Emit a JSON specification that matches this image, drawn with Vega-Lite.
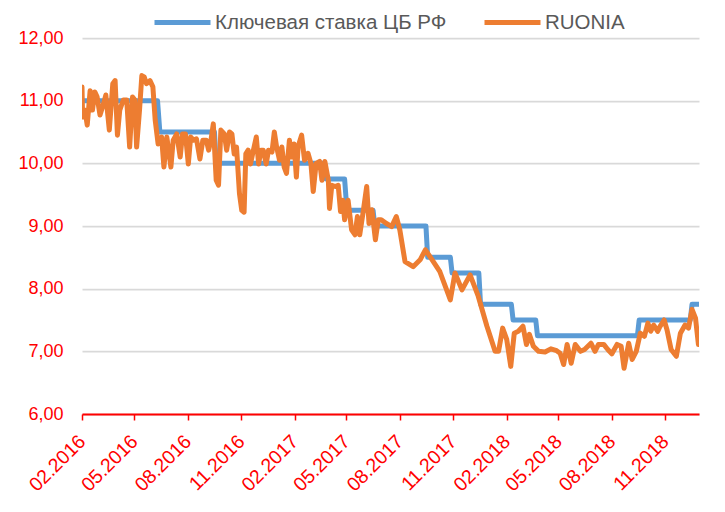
{
  "$schema": "https://vega.github.io/schema/vega-lite/v6.json",
  "width": 617,
  "height": 376,
  "autosize": {"type": "none"},
  "padding": {"left": 82, "top": 38, "right": 26, "bottom": 98},
  "background": "white",
  "config": {"view": {"stroke": null}, "font": "Liberation Sans"},
  "datasets": {
    "key": [
      {"date": "2016-02-01", "value": 11.0},
      {"date": "2016-06-10", "value": 11.0},
      {"date": "2016-06-14", "value": 10.5},
      {"date": "2016-09-16", "value": 10.5},
      {"date": "2016-09-19", "value": 10.0},
      {"date": "2017-03-24", "value": 10.0},
      {"date": "2017-03-27", "value": 9.75},
      {"date": "2017-04-28", "value": 9.75},
      {"date": "2017-05-02", "value": 9.25},
      {"date": "2017-06-16", "value": 9.25},
      {"date": "2017-06-19", "value": 9.0},
      {"date": "2017-09-15", "value": 9.0},
      {"date": "2017-09-18", "value": 8.5},
      {"date": "2017-10-27", "value": 8.5},
      {"date": "2017-10-30", "value": 8.25},
      {"date": "2017-12-15", "value": 8.25},
      {"date": "2017-12-18", "value": 7.75},
      {"date": "2018-02-09", "value": 7.75},
      {"date": "2018-02-12", "value": 7.5},
      {"date": "2018-03-23", "value": 7.5},
      {"date": "2018-03-26", "value": 7.25},
      {"date": "2018-09-14", "value": 7.25},
      {"date": "2018-09-17", "value": 7.5},
      {"date": "2018-12-14", "value": 7.5},
      {"date": "2018-12-17", "value": 7.75},
      {"date": "2018-12-29", "value": 7.75}
    ],
    "ruonia": [
      {"date": "2016-02-01", "value": 11.22},
      {"date": "2016-02-02", "value": 10.74},
      {"date": "2016-02-06", "value": 10.85},
      {"date": "2016-02-10", "value": 10.61},
      {"date": "2016-02-15", "value": 11.16},
      {"date": "2016-02-19", "value": 10.85},
      {"date": "2016-02-23", "value": 11.14},
      {"date": "2016-02-27", "value": 11.06},
      {"date": "2016-03-03", "value": 10.77},
      {"date": "2016-03-09", "value": 10.95},
      {"date": "2016-03-13", "value": 11.09},
      {"date": "2016-03-19", "value": 10.53},
      {"date": "2016-03-25", "value": 11.27},
      {"date": "2016-03-29", "value": 11.32},
      {"date": "2016-04-02", "value": 10.45},
      {"date": "2016-04-06", "value": 10.85},
      {"date": "2016-04-12", "value": 11.01},
      {"date": "2016-04-18", "value": 11.01},
      {"date": "2016-04-23", "value": 10.26},
      {"date": "2016-04-28", "value": 11.06},
      {"date": "2016-05-02", "value": 11.01},
      {"date": "2016-05-05", "value": 10.26},
      {"date": "2016-05-10", "value": 10.85},
      {"date": "2016-05-14", "value": 11.40},
      {"date": "2016-05-18", "value": 11.38},
      {"date": "2016-05-22", "value": 11.27},
      {"date": "2016-05-28", "value": 11.32},
      {"date": "2016-06-02", "value": 11.22},
      {"date": "2016-06-06", "value": 10.69},
      {"date": "2016-06-11", "value": 10.31},
      {"date": "2016-06-17", "value": 10.42},
      {"date": "2016-06-21", "value": 9.94},
      {"date": "2016-06-26", "value": 10.42},
      {"date": "2016-07-03", "value": 9.94},
      {"date": "2016-07-07", "value": 10.37},
      {"date": "2016-07-13", "value": 10.47},
      {"date": "2016-07-19", "value": 10.10},
      {"date": "2016-07-23", "value": 10.47},
      {"date": "2016-07-28", "value": 10.47},
      {"date": "2016-08-02", "value": 9.99},
      {"date": "2016-08-06", "value": 10.42},
      {"date": "2016-08-11", "value": 10.37},
      {"date": "2016-08-16", "value": 10.39},
      {"date": "2016-08-22", "value": 10.07},
      {"date": "2016-08-27", "value": 10.37},
      {"date": "2016-09-02", "value": 10.37},
      {"date": "2016-09-06", "value": 10.21},
      {"date": "2016-09-10", "value": 10.37},
      {"date": "2016-09-14", "value": 10.63},
      {"date": "2016-09-19", "value": 9.73},
      {"date": "2016-09-23", "value": 9.65},
      {"date": "2016-09-27", "value": 10.53},
      {"date": "2016-10-03", "value": 10.47},
      {"date": "2016-10-07", "value": 10.21},
      {"date": "2016-10-12", "value": 10.50},
      {"date": "2016-10-16", "value": 10.47},
      {"date": "2016-10-20", "value": 10.15},
      {"date": "2016-10-24", "value": 10.26},
      {"date": "2016-10-29", "value": 9.52},
      {"date": "2016-11-02", "value": 9.25},
      {"date": "2016-11-06", "value": 9.22},
      {"date": "2016-11-09", "value": 10.15},
      {"date": "2016-11-13", "value": 10.21},
      {"date": "2016-11-17", "value": 9.99},
      {"date": "2016-11-22", "value": 10.21},
      {"date": "2016-11-27", "value": 10.42},
      {"date": "2016-12-01", "value": 9.99},
      {"date": "2016-12-05", "value": 10.21},
      {"date": "2016-12-09", "value": 10.21},
      {"date": "2016-12-14", "value": 9.99},
      {"date": "2016-12-18", "value": 10.21},
      {"date": "2016-12-24", "value": 10.18},
      {"date": "2016-12-28", "value": 10.50},
      {"date": "2017-01-01", "value": 10.26},
      {"date": "2017-01-06", "value": 10.05},
      {"date": "2017-01-10", "value": 10.26},
      {"date": "2017-01-14", "value": 9.94},
      {"date": "2017-01-18", "value": 9.84},
      {"date": "2017-01-23", "value": 10.37},
      {"date": "2017-01-27", "value": 10.10},
      {"date": "2017-01-31", "value": 10.31},
      {"date": "2017-02-04", "value": 9.78},
      {"date": "2017-02-07", "value": 10.27},
      {"date": "2017-02-13", "value": 10.45},
      {"date": "2017-02-18", "value": 10.05},
      {"date": "2017-02-24", "value": 10.16},
      {"date": "2017-03-01", "value": 10.00},
      {"date": "2017-03-05", "value": 9.55},
      {"date": "2017-03-10", "value": 10.00},
      {"date": "2017-03-16", "value": 10.03},
      {"date": "2017-03-20", "value": 9.73},
      {"date": "2017-03-25", "value": 10.03},
      {"date": "2017-03-31", "value": 9.73},
      {"date": "2017-04-02", "value": 9.28},
      {"date": "2017-04-06", "value": 9.65},
      {"date": "2017-04-12", "value": 9.63},
      {"date": "2017-04-17", "value": 9.65},
      {"date": "2017-04-21", "value": 9.23},
      {"date": "2017-04-25", "value": 9.41},
      {"date": "2017-04-28", "value": 9.10},
      {"date": "2017-05-04", "value": 9.41},
      {"date": "2017-05-10", "value": 8.94},
      {"date": "2017-05-16", "value": 8.86},
      {"date": "2017-05-20", "value": 9.15},
      {"date": "2017-05-24", "value": 8.86},
      {"date": "2017-05-30", "value": 9.23},
      {"date": "2017-06-05", "value": 9.63},
      {"date": "2017-06-09", "value": 9.04},
      {"date": "2017-06-14", "value": 9.26},
      {"date": "2017-06-20", "value": 8.78},
      {"date": "2017-06-25", "value": 9.10},
      {"date": "2017-06-30", "value": 9.10},
      {"date": "2017-07-09", "value": 9.04},
      {"date": "2017-07-18", "value": 8.99},
      {"date": "2017-07-26", "value": 9.15},
      {"date": "2017-08-01", "value": 8.94},
      {"date": "2017-08-10", "value": 8.43},
      {"date": "2017-08-24", "value": 8.35},
      {"date": "2017-09-05", "value": 8.46},
      {"date": "2017-09-14", "value": 8.62},
      {"date": "2017-09-22", "value": 8.51},
      {"date": "2017-10-09", "value": 8.27},
      {"date": "2017-10-27", "value": 7.82},
      {"date": "2017-11-04", "value": 8.25},
      {"date": "2017-11-16", "value": 7.98},
      {"date": "2017-11-30", "value": 8.22},
      {"date": "2017-12-14", "value": 7.88},
      {"date": "2017-12-29", "value": 7.40},
      {"date": "2018-01-12", "value": 7.00},
      {"date": "2018-01-18", "value": 7.00},
      {"date": "2018-01-25", "value": 7.37},
      {"date": "2018-02-01", "value": 7.19},
      {"date": "2018-02-08", "value": 6.76},
      {"date": "2018-02-14", "value": 7.29},
      {"date": "2018-02-21", "value": 7.32},
      {"date": "2018-03-01", "value": 7.40},
      {"date": "2018-03-07", "value": 7.11},
      {"date": "2018-03-12", "value": 7.27},
      {"date": "2018-03-19", "value": 7.08},
      {"date": "2018-03-28", "value": 7.00},
      {"date": "2018-04-08", "value": 6.99},
      {"date": "2018-04-18", "value": 7.04},
      {"date": "2018-04-28", "value": 7.01},
      {"date": "2018-05-04", "value": 6.97},
      {"date": "2018-05-10", "value": 6.79},
      {"date": "2018-05-16", "value": 7.11},
      {"date": "2018-05-23", "value": 6.81},
      {"date": "2018-05-30", "value": 7.11},
      {"date": "2018-06-08", "value": 7.00},
      {"date": "2018-06-15", "value": 7.03},
      {"date": "2018-06-26", "value": 7.13},
      {"date": "2018-07-03", "value": 7.00},
      {"date": "2018-07-09", "value": 7.11},
      {"date": "2018-07-18", "value": 7.11},
      {"date": "2018-07-25", "value": 7.03},
      {"date": "2018-08-01", "value": 6.96},
      {"date": "2018-08-10", "value": 7.11},
      {"date": "2018-08-17", "value": 7.08},
      {"date": "2018-08-22", "value": 6.73},
      {"date": "2018-08-30", "value": 7.13},
      {"date": "2018-09-05", "value": 6.87},
      {"date": "2018-09-12", "value": 7.00},
      {"date": "2018-09-19", "value": 7.29},
      {"date": "2018-09-26", "value": 7.24},
      {"date": "2018-10-02", "value": 7.45},
      {"date": "2018-10-07", "value": 7.32},
      {"date": "2018-10-12", "value": 7.42},
      {"date": "2018-10-19", "value": 7.32},
      {"date": "2018-10-23", "value": 7.40},
      {"date": "2018-10-30", "value": 7.50},
      {"date": "2018-11-04", "value": 7.34},
      {"date": "2018-11-11", "value": 7.03},
      {"date": "2018-11-20", "value": 6.92},
      {"date": "2018-11-27", "value": 7.29},
      {"date": "2018-12-05", "value": 7.42},
      {"date": "2018-12-11", "value": 7.37},
      {"date": "2018-12-17", "value": 7.67},
      {"date": "2018-12-23", "value": 7.53},
      {"date": "2018-12-28", "value": 7.11}
    ]
  },
  "layer": [
    {
      "data": {"name": "key"},
      "mark": {"type": "line", "strokeWidth": 5, "strokeJoin": "round", "clip": true},
      "encoding": {
        "x": {
          "field": "date",
          "type": "temporal",
          "scale": {
            "type": "utc",
            "domain": [
              {"year": 2016, "month": 2, "date": 1, "utc": true},
              {"year": 2018, "month": 12, "date": 29, "utc": true}
            ]
          },
          "axis": {
            "values": [
              {"year": 2016, "month": 2, "date": 1, "utc": true},
              {"year": 2016, "month": 5, "date": 1, "utc": true},
              {"year": 2016, "month": 8, "date": 1, "utc": true},
              {"year": 2016, "month": 11, "date": 1, "utc": true},
              {"year": 2017, "month": 2, "date": 1, "utc": true},
              {"year": 2017, "month": 5, "date": 1, "utc": true},
              {"year": 2017, "month": 8, "date": 1, "utc": true},
              {"year": 2017, "month": 11, "date": 1, "utc": true},
              {"year": 2018, "month": 2, "date": 1, "utc": true},
              {"year": 2018, "month": 5, "date": 1, "utc": true},
              {"year": 2018, "month": 8, "date": 1, "utc": true},
              {"year": 2018, "month": 11, "date": 1, "utc": true}
            ],
            "labelExpr": "utcFormat(datum.value, '%m.%Y')",
            "title": null,
            "grid": false,
            "labelAngle": -45,
            "labelAlign": "right",
            "labelBaseline": "middle",
            "labelColor": "#FF0000",
            "labelFontSize": 19.5,
            "labelPadding": 18,
            "labelOffset": 0,
            "labelOverlap": false,
            "labelFlush": false,
            "labelBound": false,
            "domainColor": "#FF0000",
            "domainWidth": 2,
            "tickColor": "#FF0000",
            "tickWidth": 1.5,
            "tickSize": 6
          }
        },
        "y": {
          "field": "value",
          "type": "quantitative",
          "scale": {"domain": [6, 12], "nice": false, "zero": false},
          "axis": {
            "values": [6, 7, 8, 9, 10, 11, 12],
            "labelExpr": "replace(format(datum.value, '.2f'), '.', ',')",
            "title": null,
            "labelColor": "#FF0000",
            "labelFontSize": 18,
            "labelPadding": 19,
            "ticks": false,
            "tickSize": 0,
            "domain": false,
            "grid": true,
            "gridColor": "#d9d9d9",
            "gridWidth": 1.75
          }
        },
        "color": {
          "datum": "Ключевая ставка ЦБ РФ",
          "scale": {
            "domain": ["Ключевая ставка ЦБ РФ", "RUONIA"],
            "range": ["#5B9BD5", "#ED7D31"]
          },
          "legend": {
            "orient": "none",
            "legendX": 70,
            "legendY": -46,
            "direction": "horizontal",
            "title": null,
            "symbolType": "stroke",
            "symbolSize": 3136,
            "symbolStrokeWidth": 5,
            "labelFontSize": 20.5,
            "labelLimit": 500,
            "labelColor": "#595959",
            "labelOffset": 2,
            "columnPadding": 27,
            "padding": 0
          }
        }
      }
    },
    {
      "data": {"name": "ruonia"},
      "mark": {"type": "line", "strokeWidth": 5, "strokeJoin": "round", "strokeCap": "round", "clip": true},
      "encoding": {
        "x": {"field": "date", "type": "temporal"},
        "y": {"field": "value", "type": "quantitative"},
        "color": {"datum": "RUONIA"}
      }
    }
  ]
}
